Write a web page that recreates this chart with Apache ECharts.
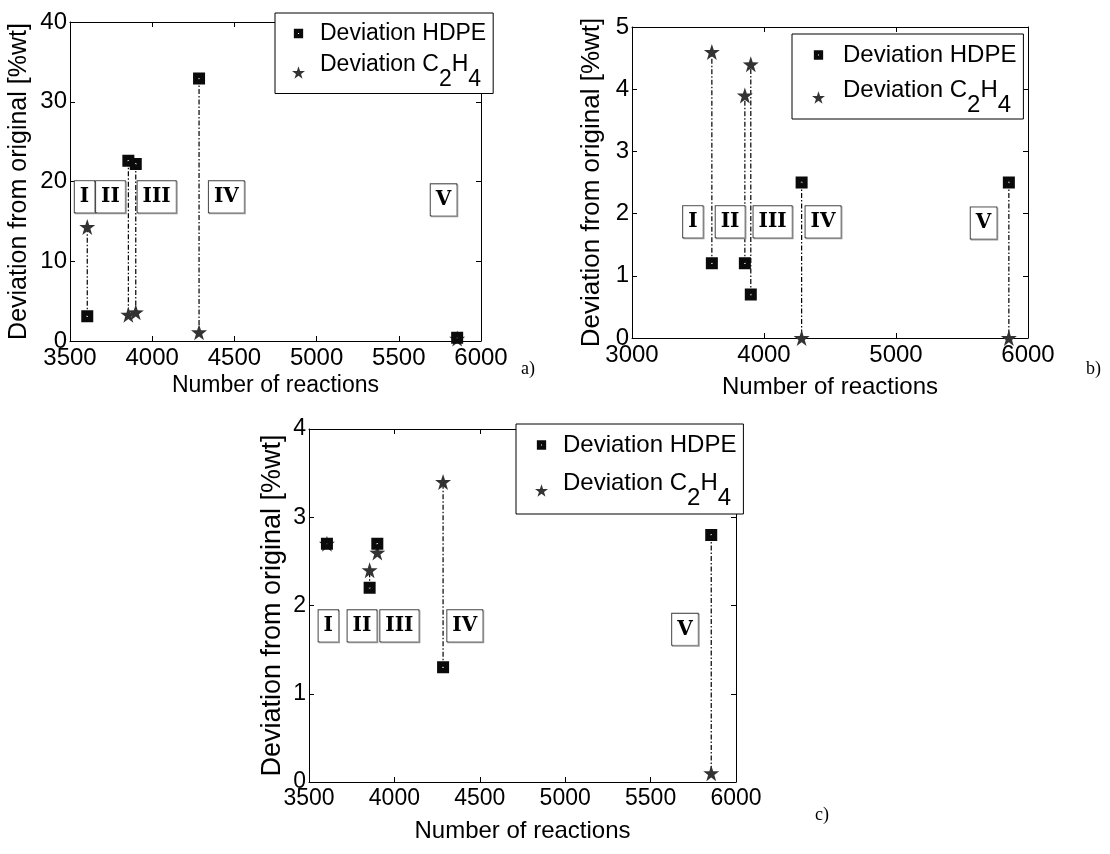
<!DOCTYPE html>
<html>
<head>
<meta charset="utf-8">
<script src="https://cdn.jsdelivr.net/npm/echarts@6/dist/echarts.min.js"></script>
<style>
  html, body { margin: 0; padding: 0; background: #fff; }
  #chart { width: 1110px; height: 854px; }
</style>
</head>
<body>
<div id="chart"></div>
<script>
// Number of reactions for the five reduced mechanisms (I..V)
const reactions = [3605, 3855, 3900, 4285, 5855];

// a) deviations [%wt]
const hdpeA = [3.1, 22.6, 22.2, 32.9, 0.4];
const c2h4A = [14.3, 3.3, 3.6, 1.1, 0.3];
// b) deviations [%wt]
const hdpeB = [1.2, 1.2, 0.7, 2.5, 2.5];
const c2h4B = [4.6, 3.9, 4.4, 0.0, 0.0];
// c) deviations [%wt]
const hdpeC = [2.7, 2.2, 2.7, 1.3, 2.8];
const c2h4C = [2.7, 2.4, 2.6, 3.4, 0.1];

// Roman-numeral region tags, placed in data units
const regionTags = ['I', 'II', 'III', 'IV', 'V'];
const tagXA = [3588, 3746, 4027, 4451, 5772];
const tagYA = [18.1, 18.1, 18.1, 18.1, 17.7];
const tagXB = [3461, 3743, 4065, 4447, 5663];
const tagYB = [1.87, 1.87, 1.87, 1.87, 1.85];
const tagXC = [3613, 3810, 4029, 4412, 5701];
const tagYC = [1.77, 1.77, 1.77, 1.77, 1.73];

// Axis ranges
const xRangeA = [3500, 6000, 500], yRangeA = [0, 40, 10];
const xRangeB = [3000, 6000, 1000], yRangeB = [0, 5, 1];
const xRangeC = [3500, 6000, 500], yRangeC = [0, 4, 1];

const NAME_HDPE = 'Deviation HDPE';
const NAME_C2H4 = 'Deviation C2H4';

// five-point star (pentagram) marker
function starPath() {
  const pts = [];
  for (let i = 0; i < 10; i++) {
    const a = (-90 + i * 36) * Math.PI / 180;
    const r = i % 2 ? 0.39 : 1;
    pts.push((50 + 50 * r * Math.cos(a)).toFixed(2) + ',' + (50 + 50 * r * Math.sin(a)).toFixed(2));
  }
  return 'path://M' + pts.join('L') + 'Z';
}
const STAR = starPath();
// filled square with a small light centre dot
const SQUARE = 'path://M0,0H10V10H0ZM4.4,4.4V5.6H5.6V4.4Z';
const SQUARE_LEGEND = 'path://M-2,-2M12,12M0,0H10V10H0ZM4.4,4.4V5.6H5.6V4.4Z';

const SANS = '"Liberation Sans", Arial, sans-serif';
const SERIF = '"DejaVu Serif", "Liberation Serif", serif';

const panels = [
  { grid: { left: 70, top: 22, width: 411, height: 319 }, xr: xRangeA, yr: yRangeA,
    hdpe: hdpeA, c2h4: c2h4A, tagX: tagXA, tagY: tagYA,
    tick: 24, xName: 23, yName: 25, xGap: 33, yGap: 38, legendFont: 23,
    legend: { left: 275, top: 13, pad: [9, 7, 2, 17], gap: 8.5, textPad: 10 } },
  { grid: { left: 632, top: 27, width: 396, height: 311 }, xr: xRangeB, yr: yRangeB,
    hdpe: hdpeB, c2h4: c2h4B, tagX: tagXB, tagY: tagYB,
    tick: 24, xName: 24, yName: 26, xGap: 37, yGap: 27, legendFont: 24,
    legend: { left: 792, top: 34, pad: [9, 7, 2, 20], gap: 11, textPad: 13 } },
  { grid: { left: 309, top: 429, width: 427, height: 353 }, xr: xRangeC, yr: yRangeC,
    hdpe: hdpeC, c2h4: c2h4C, tagX: tagXC, tagY: tagYC,
    tick: 23, xName: 24, yName: 27, xGap: 37, yGap: 23, legendFont: 24,
    legend: { left: 516, top: 424, pad: [9, 7, 4, 19], gap: 14, textPad: 10 } }
];

const grid = [], xAxis = [], yAxis = [], series = [], legend = [];

panels.forEach((p, g) => {
  grid.push(Object.assign({ containLabel: false }, p.grid));
  const line = { show: true, onZero: false, lineStyle: { color: '#000', width: 1 } };
  const tick = { show: true, inside: true, length: 5, lineStyle: { color: '#000', width: 1 } };
  const baseX = { type: 'value', gridIndex: g, min: p.xr[0], max: p.xr[1], interval: p.xr[2],
    axisLine: line, axisTick: tick, splitLine: { show: false } };
  const baseY = { type: 'value', gridIndex: g, min: p.yr[0], max: p.yr[1], interval: p.yr[2],
    axisLine: line, axisTick: tick, splitLine: { show: false } };

  xAxis.push(Object.assign({}, baseX, {
    position: 'bottom',
    name: 'Number of reactions', nameLocation: 'middle', nameGap: p.xGap,
    nameTextStyle: { fontFamily: SANS, fontSize: p.xName, color: '#000' },
    axisLabel: { fontFamily: SANS, fontSize: p.tick, color: '#000', margin: 5, formatter: v => String(v) }
  }));
  xAxis.push(Object.assign({}, baseX, { position: 'top', axisLabel: { show: false } }));
  yAxis.push(Object.assign({}, baseY, {
    position: 'left',
    name: 'Deviation from original [%wt]', nameLocation: 'middle', nameGap: p.yGap,
    nameTextStyle: { fontFamily: SANS, fontSize: p.yName, color: '#000' },
    axisLabel: { fontFamily: SANS, fontSize: p.tick, color: '#000', margin: 3, formatter: v => String(v) }
  }));
  yAxis.push(Object.assign({}, baseY, { position: 'right', axisLabel: { show: false } }));

  const xi = 2 * g, yi = 2 * g;

  // dash-dot connectors between the two deviations of each mechanism
  series.push({
    type: 'custom', xAxisIndex: xi, yAxisIndex: yi, silent: true, z: 2,
    data: reactions.map((x, i) => [x, p.hdpe[i], p.c2h4[i]]),
    encode: { x: 0, y: [1, 2] },
    renderItem(params, api) {
      const a = api.coord([api.value(0), api.value(1)]);
      const b = api.coord([api.value(0), api.value(2)]);
      return { type: 'line', shape: { x1: a[0], y1: a[1], x2: b[0], y2: b[1] },
        style: { stroke: '#000', lineWidth: 1.2, lineDash: [5, 2, 1.5, 2] } };
    }
  });

  // region tags
  series.push({
    type: 'scatter', xAxisIndex: xi, yAxisIndex: yi, silent: true, z: 3,
    symbolSize: 1, itemStyle: { color: 'rgba(0,0,0,0)', opacity: 1 },
    data: regionTags.map((t, i) => [p.tagX[i], p.tagY[i], t]),
    label: {
      show: true, position: 'inside', formatter: q => q.value[2],
      fontFamily: SERIF, fontWeight: 'bold', fontSize: 20, color: '#000',
      backgroundColor: '#fff', borderColor: '#444', borderWidth: 1,
      padding: [6, 5, 5, 5],
      shadowColor: '#999', shadowOffsetX: 1, shadowOffsetY: 1, shadowBlur: 0
    }
  });

  series.push({
    name: NAME_C2H4, type: 'scatter', xAxisIndex: xi, yAxisIndex: yi, z: 4,
    symbol: STAR, symbolSize: 16, itemStyle: { color: '#333', opacity: 1 },
    data: reactions.map((x, i) => [x, p.c2h4[i]])
  });
  series.push({
    name: NAME_HDPE, type: 'scatter', xAxisIndex: xi, yAxisIndex: yi, z: 5,
    symbol: SQUARE, symbolSize: 12, itemStyle: { color: '#0a0a0a', opacity: 1 },
    data: reactions.map((x, i) => [x, p.hdpe[i]])
  });

  const fs = p.legendFont, L = p.legend;
  legend.push({
    orient: 'vertical', left: L.left, top: L.top,
    backgroundColor: '#fff', borderColor: '#000', borderWidth: 1,
    padding: L.pad, itemGap: L.gap, itemWidth: 13, itemHeight: 13,
    selectedMode: false, z: 10,
    data: [
      { name: NAME_HDPE, icon: SQUARE_LEGEND, itemStyle: { color: '#0a0a0a' } },
      { name: NAME_C2H4, icon: STAR, itemStyle: { color: '#333' } }
    ],
    formatter: n => n === NAME_C2H4 ? '{m|Deviation C}{s|2}{m|H}{s|4}' : n,
    textStyle: {
      fontFamily: SANS, fontSize: fs, color: '#000', padding: [0, 0, 0, L.textPad],
      rich: {
        m: { fontFamily: SANS, fontSize: fs, color: '#000', verticalAlign: 'top' },
        s: { fontFamily: SANS, fontSize: fs, color: '#000', verticalAlign: 'bottom', padding: [15, 0, 0, 0] }
      }
    }
  });
});

const chart = echarts.init(document.getElementById('chart'), null, { renderer: 'canvas' });
chart.setOption({
  backgroundColor: '#fff',
  animation: false,
  grid, xAxis, yAxis, series, legend,
  graphic: [
    { type: 'text', left: 521, top: 360, style: { text: 'a)', font: '18px "Liberation Serif", serif', fill: '#000' } },
    { type: 'text', left: 1086, top: 360, style: { text: 'b)', font: '18px "Liberation Serif", serif', fill: '#000' } },
    { type: 'text', left: 815, top: 806, style: { text: 'c)', font: '18px "Liberation Serif", serif', fill: '#000' } }
  ]
});
</script>
</body>
</html>
